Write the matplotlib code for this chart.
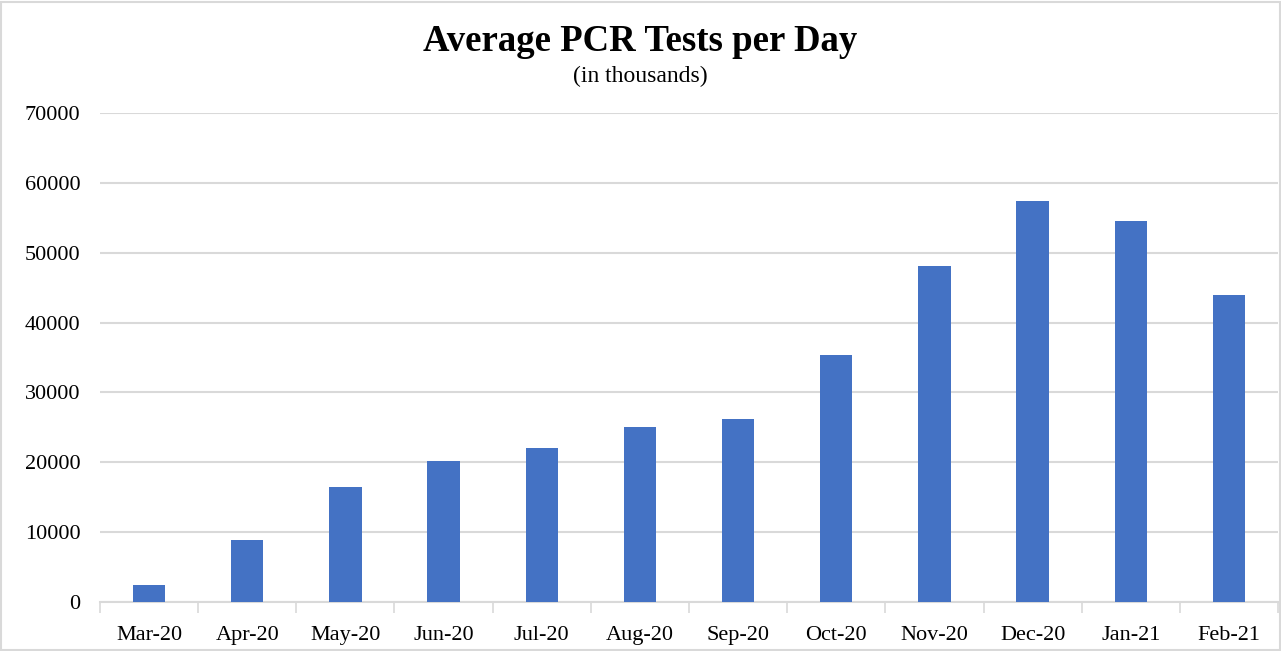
import matplotlib

matplotlib.use("Agg")
import matplotlib.pyplot as plt
from matplotlib.patches import Rectangle
import numpy as np

months = ["Mar-20", "Apr-20", "May-20", "Jun-20", "Jul-20", "Aug-20",
          "Sep-20", "Oct-20", "Nov-20", "Dec-20", "Jan-21", "Feb-21"]
tests = [2400, 8900, 16500, 20200, 22000, 25100,
         26200, 35400, 48100, 57400, 54600, 43900]
y_ticks = [0, 10000, 20000, 30000, 40000, 50000, 60000, 70000]

plt.rcParams["font.family"] = ["Liberation Serif", "DejaVu Serif"]
bar_color = "#4472C4"
grid_color = "#D9D9D9"

fig = plt.figure(figsize=(12.81, 6.51), dpi=100)
ax = fig.add_axes([0.078, 0.0753, 0.9197, 0.7511])

x = np.arange(len(months))
ax.bar(x, tests, width=0.33, color=bar_color, zorder=3)

ax.set_xlim(-0.5, len(months) - 0.5)
ax.set_ylim(0, 70000)
ax.set_yticks(y_ticks)
ax.set_yticklabels([str(v) for v in y_ticks])
ax.yaxis.grid(True, color=grid_color, linewidth=1.5, zorder=0)

ax.set_xticks(x)
ax.set_xticklabels(months)
ax.set_xticks(np.arange(-0.5, len(months)), minor=True)
ax.tick_params(axis="x", which="major", length=0, pad=17, labelsize=16, colors="#000000")
ax.tick_params(axis="x", which="minor", length=8, width=1.2, color=grid_color)
ax.tick_params(axis="y", length=0, pad=14, labelsize=16)

for side in ["top", "right", "left"]:
    ax.spines[side].set_visible(False)
ax.spines["bottom"].set_color(grid_color)
ax.spines["bottom"].set_linewidth(1.5)

fig.text(0.5, 0.937, "Average PCR Tests per Day", ha="center", va="center",
         fontsize=26.5, fontweight="bold")
fig.text(0.5, 0.882, "(in thousands)", ha="center", va="center", fontsize=17)

# light chart-area border
fig.patches.append(Rectangle((0.001, 0.001), 0.998, 0.996, transform=fig.transFigure,
                             fill=False, edgecolor=grid_color, linewidth=1.5))

fig.savefig("out.png", dpi=100)
plt.close(fig)
